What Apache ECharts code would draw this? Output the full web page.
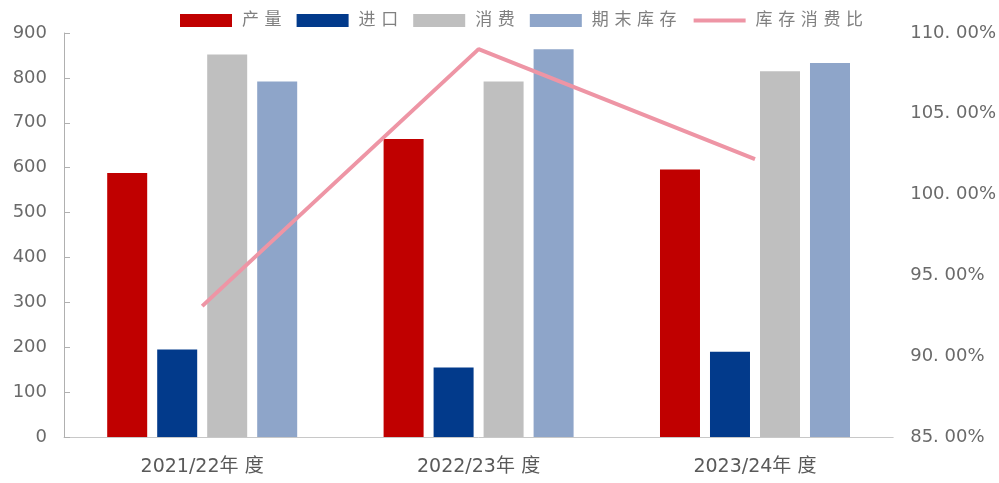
<!DOCTYPE html>
<html>
<head>
<meta charset="utf-8">
<script src="https://cdn.jsdelivr.net/npm/echarts@6/dist/echarts.min.js"></script>
<style>
  html, body { margin: 0; padding: 0; background: #fff; }
  #chart { width: 999px; height: 483px; }
</style>
</head>
<body>
<div id="chart"></div>
<script>
// Supply/demand balance by marketing year (left axis: volume, right axis: stock-to-use %)
const categories = ['2021/22年度', '2022/23年度', '2023/24年度'];
const production = [588, 664, 596];
const imports = [195, 155, 190];
const consumption = [852, 792, 815];
const endingStock = [792, 864, 833];
const stockToUse = [93.1, 109.0, 102.2];
const leftTicks = [0, 900, 100];
const rightTicks = [85, 110, 5];

const FONT = 'DejaVu Sans, "Noto Sans CJK SC", sans-serif';
// widen the spacing between CJK glyphs a little
const spaced = s => s.split('').join('\u2004');

const chart = echarts.init(document.getElementById('chart'), null, { renderer: 'canvas' });

function barSeries(name, data, color) {
  return {
    name, type: 'bar', data, yAxisIndex: 0,
    barWidth: 40, barGap: '25%',
    itemStyle: { color },
    emphasis: { disabled: true }
  };
}

const LINE_COLOR = '#ee95a5';

chart.setOption({
  animation: false,
  backgroundColor: '#ffffff',
  grid: { left: 64, right: 102, top: 33, bottom: 46 },
  legend: {
    left: 180, top: 12, padding: 0,
    itemWidth: 52, itemHeight: 13, itemGap: 15,
    textStyle: { fontFamily: FONT, fontSize: 17, color: '#808080', padding: [0, 0, 0, 5] },
    formatter: name => spaced(name),
    data: [
      { name: '产量', icon: 'rect' },
      { name: '进口', icon: 'rect' },
      { name: '消费', icon: 'rect' },
      { name: '期末库存', icon: 'rect' },
      { name: '库存消费比', itemStyle: { opacity: 0 }, lineStyle: { width: 4, color: LINE_COLOR } }
    ]
  },
  xAxis: {
    type: 'category',
    data: categories,
    axisLine: { show: true, lineStyle: { color: '#c8c8c8', width: 1 } },
    axisTick: { show: false },
    axisLabel: {
      fontFamily: FONT, fontSize: 19, color: '#595959', margin: 21,
      formatter: v => v.replace('年度', '年\u2004度')
    },
    splitLine: { show: false }
  },
  yAxis: [
    {
      type: 'value',
      min: leftTicks[0], max: leftTicks[1], interval: leftTicks[2],
      axisLine: { show: true, lineStyle: { color: '#b0b0b0', width: 1 } },
      axisTick: { show: true, inside: true, length: 6, lineStyle: { color: '#b0b0b0' } },
      axisLabel: { fontFamily: FONT, fontSize: 18, color: '#6a6a6a', margin: 17 },
      splitLine: { show: false }
    },
    {
      type: 'value',
      min: rightTicks[0], max: rightTicks[1], interval: rightTicks[2],
      position: 'right',
      axisLine: { show: false },
      axisTick: { show: false },
      axisLabel: {
        fontFamily: FONT, fontSize: 18, color: '#6a6a6a', margin: 17,
        formatter: v => v.toFixed(2).replace('.', '. ') + '%'
      },
      splitLine: { show: false }
    }
  ],
  series: [
    barSeries('产量', production, '#c00000'),
    barSeries('进口', imports, '#023a8b'),
    barSeries('消费', consumption, '#bfbfbf'),
    barSeries('期末库存', endingStock, '#8ea5c9'),
    {
      name: '库存消费比', type: 'line', yAxisIndex: 1,
      data: stockToUse,
      symbol: 'none',
      lineStyle: { color: LINE_COLOR, width: 4 },
      itemStyle: { color: LINE_COLOR },
      emphasis: { disabled: true }
    }
  ]
});
</script>
</body>
</html>
